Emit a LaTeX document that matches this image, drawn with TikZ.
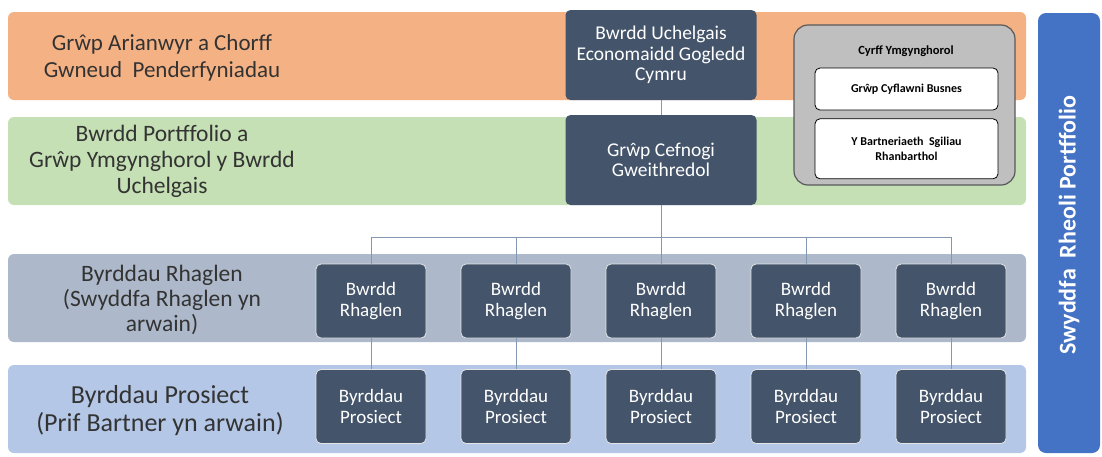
\documentclass[tikz,border=0pt]{standalone}
\usepackage{fontspec}
\setmainfont{Carlito}
\usepackage{tikz}
\usetikzlibrary{positioning}
\usepackage{xcolor}

\definecolor{bandorange}{RGB}{244,177,131}
\definecolor{bandgreen}{RGB}{197,224,180}
\definecolor{bandgrey}{RGB}{173,185,202}
\definecolor{bandblue}{RGB}{180,199,231}
\definecolor{boxdark}{RGB}{68,84,106}
\definecolor{officeblue}{RGB}{68,114,196}
\definecolor{linegrey}{RGB}{132,151,176}

\begin{document}
\begin{tikzpicture}[x=1pt, y=-1pt,
	band/.style={rounded corners=6pt, minimum width=1018pt, minimum height=88pt, inner sep=0pt},
	bandtext/.style={align=center, text=black!80, font=\fontsize{23}{27}\selectfont},
	board/.style={fill=boxdark, draw=black!10, line width=0.8pt, rounded corners=5pt, text=white, align=center, inner sep=0pt, minimum width=110pt, minimum height=74pt, font=\fontsize{19}{21}\selectfont},
	topboard/.style={board, draw=none, minimum width=191pt, minimum height=90pt, font=\fontsize{19.5}{20.5}\selectfont},
	advice/.style={fill=white, draw=black, line width=0.8pt, rounded corners=5pt, minimum width=183pt, align=center, inner sep=0pt, font=\bfseries\fontsize{12}{15}\selectfont},
	link/.style={draw=linegrey, line width=1pt}]
	\useasboundingbox (0,0) rectangle (1102,456);
	\node [band, fill=bandorange] (funders) at (517,56) {};
	\node [band, fill=bandgreen] (portfolio) at (517,161) {};
	\node [band, fill=bandgrey] (programme) at (517,298) {};
	\node [band, fill=bandblue] (project) at (517,409) {};
	\node [bandtext] (fundersText) at (162,58) {Grŵp Arianwyr a Chorff\\Gwneud\ \ Penderfyniadau};
	\node [bandtext, font=\fontsize{23.5}{26}\selectfont] (portfolioText) at (162,161) {Bwrdd Portffolio a\\Grŵp Ymgynghorol y Bwrdd\\Uchelgais};
	\node [bandtext, font=\fontsize{23.5}{25}\selectfont] (programmeText) at (162,300) {Byrddau Rhaglen\\(Swyddfa Rhaglen yn\\arwain)};
	\node [bandtext, font=\fontsize{26}{28}\selectfont] (projectText) at (160,411) {Byrddau Prosiect\\(Prif Bartner yn arwain)};
	\node [fill=officeblue, rounded corners=8pt, rotate=90, minimum width=440pt, minimum height=62pt, inner sep=0pt] (office) at (1069,233) {};
	\node [rotate=90, text=white, font=\bfseries\fontsize{24}{26}\selectfont] (officeText) at (1069,225) {Swyddfa\ \ Rheoli Portffolio};
	\node [topboard] (uchelgais) at (661,55) {Bwrdd Uchelgais\\Economaidd Gogledd\\Cymru};
	\node [topboard] (cefnogi) at (661,160) {Grŵp Cefnogi\\Gweithredol};
	\draw [link] (uchelgais) -- (cefnogi);
	\coordinate (bus) at (661,237);
	\draw [link] (cefnogi) -- (bus);
	\foreach \i/\x in {1/371,2/516,3/661,4/806,5/951} {
		\node [board] (rhaglen\i) at (\x,301) {Bwrdd\\Rhaglen};
		\node [board] (prosiect\i) at (\x,406.5) {Byrddau\\Prosiect};
		\draw [link] (bus) -| (rhaglen\i);
		\draw [link] (rhaglen\i) -- (prosiect\i);
	}
	\node [fill=black!25, draw=black!65, line width=1.2pt, rounded corners=14pt, minimum width=221pt, minimum height=160pt, inner sep=0pt] (cyrff) at (904.5,105) {};
	\node [font=\bfseries\fontsize{12.5}{14}\selectfont] (cyrffTitle) at (906,51) {Cyrff Ymgynghorol};
	\node [advice, minimum height=42pt] (busnes) at (906.5,89) {Grŵp Cyflawni Busnes};
	\node [advice, minimum height=60pt, below=8pt of busnes] (sgiliau) {Y Bartneriaeth\ \ Sgiliau\\Rhanbarthol};
\end{tikzpicture}
\end{document}
